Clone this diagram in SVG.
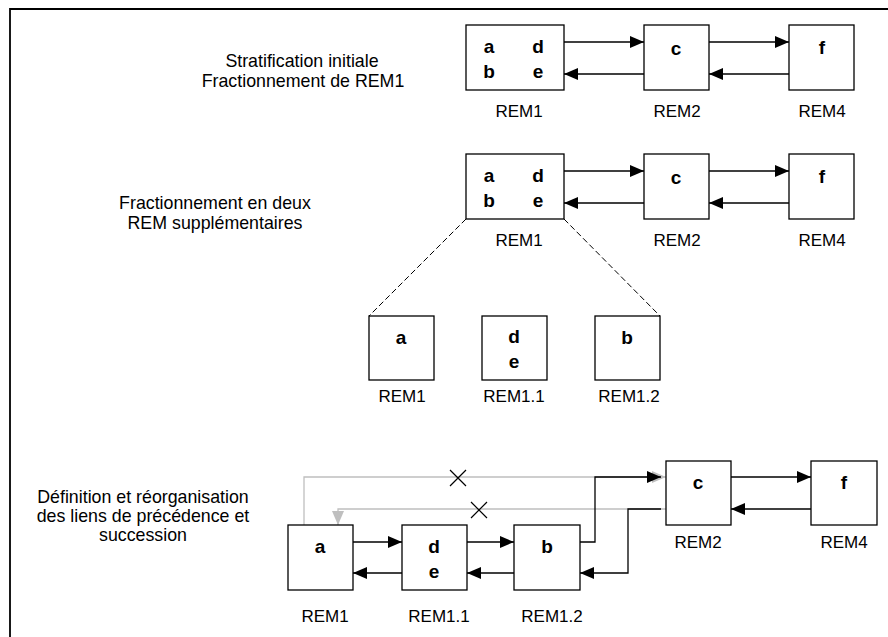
<svg xmlns="http://www.w3.org/2000/svg" width="888" height="637" viewBox="0 0 888 637">
<defs>
<marker id="ah" markerUnits="userSpaceOnUse" markerWidth="14" markerHeight="12" refX="14" refY="6" orient="auto">
<path d="M0,0 L14,6 L0,12 Z" fill="#000"/>
</marker>
<marker id="ahg" markerUnits="userSpaceOnUse" markerWidth="14" markerHeight="12" refX="14" refY="6" orient="auto">
<path d="M0,0 L14,6 L0,12 Z" fill="#bfbfbf"/>
</marker>
<style>
.box{fill:#fff;stroke:#000;stroke-width:1.3}
.lbl{font-family:"Liberation Sans",Arial,sans-serif;font-size:17px;fill:#000;text-anchor:middle}
.let{font-family:"Liberation Sans",Arial,sans-serif;font-size:19px;font-weight:bold;fill:#000;text-anchor:middle}
.txt{font-family:"Liberation Sans",Arial,sans-serif;font-size:17.8px;fill:#000;text-anchor:middle}
.ar{fill:none;stroke:#000;stroke-width:1.3;marker-end:url(#ah)}
.gr{fill:none;stroke:#bfbfbf;stroke-width:1.3;marker-end:url(#ahg)}
.dash{fill:none;stroke:#000;stroke-width:1;stroke-dasharray:6,3}
.x{stroke:#000;stroke-width:1.2}
</style>
</defs>
<path d="M10,637 V9 H888" fill="none" stroke="#000" stroke-width="1.8"/>

<g id="texts">
<text class="txt" x="302" y="67">Stratification initiale</text>
<text class="txt" x="303" y="87">Fractionnement de REM1</text>
<text class="txt" x="215" y="209">Fractionnement en deux</text>
<text class="txt" x="215" y="229">REM supplémentaires</text>
<text class="txt" x="143" y="503">Définition et réorganisation</text>
<text class="txt" x="143" y="522">des liens de précédence et</text>
<text class="txt" x="143" y="541">succession</text>
</g>

<g id="connectors">
<path class="ar" d="M564,42 H644"/>
<path class="ar" d="M644,74 H564"/>
<path class="ar" d="M709,42 H789"/>
<path class="ar" d="M789,74 H709"/>
<path class="ar" d="M564,171 H644"/>
<path class="ar" d="M644,203 H564"/>
<path class="ar" d="M709,171 H789"/>
<path class="ar" d="M789,203 H709"/>
<path class="dash" d="M466,219 L369,316"/>
<path class="dash" d="M564,219 L660,316"/>
<path class="gr" d="M304,525 V477 H666"/>
<path class="gr" d="M666,509 H338 V525"/>
<path class="ar" d="M353,542 H402"/>
<path class="ar" d="M402,573 H353"/>
<path class="ar" d="M467,542 H514"/>
<path class="ar" d="M514,573 H467"/>
<path class="ar" d="M580,542 H595 V477 H661"/>
<path class="ar" d="M661,509 H628 V573 H580"/>
<path class="ar" d="M731,477 H811"/>
<path class="ar" d="M811,509 H731"/>
<path class="x" d="M450,470 L466,486 M466,470 L450,486"/>
<path class="x" d="M471,502 L487,518 M487,502 L471,518"/>
</g>

<g id="row1-rem1">
<rect class="box" x="466" y="25" width="98" height="65"/>
<text class="let" x="489" y="53">a</text><text class="let" x="538" y="53">d</text>
<text class="let" x="489" y="78">b</text><text class="let" x="538" y="78">e</text>
<text class="lbl" x="519" y="117">REM1</text>
</g>
<g id="row1-rem2">
<rect class="box" x="644" y="25" width="65" height="65"/>
<text class="let" x="676" y="55">c</text>
<text class="lbl" x="677" y="117">REM2</text>
</g>
<g id="row1-rem4">
<rect class="box" x="789" y="25" width="65" height="65"/>
<text class="let" x="822" y="54">f</text>
<text class="lbl" x="822" y="117">REM4</text>
</g>

<g id="row2-rem1">
<rect class="box" x="466" y="154" width="98" height="65"/>
<text class="let" x="489" y="182">a</text><text class="let" x="538" y="182">d</text>
<text class="let" x="489" y="207">b</text><text class="let" x="538" y="207">e</text>
<text class="lbl" x="519" y="246">REM1</text>
</g>
<g id="row2-rem2">
<rect class="box" x="644" y="154" width="65" height="65"/>
<text class="let" x="676" y="184">c</text>
<text class="lbl" x="677" y="246">REM2</text>
</g>
<g id="row2-rem4">
<rect class="box" x="789" y="154" width="65" height="65"/>
<text class="let" x="822" y="183">f</text>
<text class="lbl" x="822" y="246">REM4</text>
</g>

<g id="split-rem1">
<rect class="box" x="369" y="316" width="65" height="64"/>
<text class="let" x="401" y="344">a</text>
<text class="lbl" x="402" y="402">REM1</text>
</g>
<g id="split-rem11">
<rect class="box" x="482" y="316" width="65" height="64"/>
<text class="let" x="514" y="343">d</text>
<text class="let" x="514" y="368">e</text>
<text class="lbl" x="514" y="402">REM1.1</text>
</g>
<g id="split-rem12">
<rect class="box" x="595" y="316" width="65" height="64"/>
<text class="let" x="627" y="344">b</text>
<text class="lbl" x="629" y="402">REM1.2</text>
</g>

<g id="row3-rem1">
<rect class="box" x="288" y="525" width="65" height="65"/>
<text class="let" x="320" y="553">a</text>
<text class="lbl" x="325" y="622">REM1</text>
</g>
<g id="row3-rem11">
<rect class="box" x="402" y="525" width="65" height="65"/>
<text class="let" x="434" y="553">d</text>
<text class="let" x="434" y="578">e</text>
<text class="lbl" x="439" y="622">REM1.1</text>
</g>
<g id="row3-rem12">
<rect class="box" x="514" y="525" width="66" height="65"/>
<text class="let" x="547" y="553">b</text>
<text class="lbl" x="552" y="622">REM1.2</text>
</g>
<g id="row3-rem2">
<rect class="box" x="666" y="461" width="65" height="64"/>
<text class="let" x="698" y="489">c</text>
<text class="lbl" x="698" y="548">REM2</text>
</g>
<g id="row3-rem4">
<rect class="box" x="811" y="461" width="66" height="64"/>
<text class="let" x="844" y="489">f</text>
<text class="lbl" x="844" y="548">REM4</text>
</g>
</svg>
